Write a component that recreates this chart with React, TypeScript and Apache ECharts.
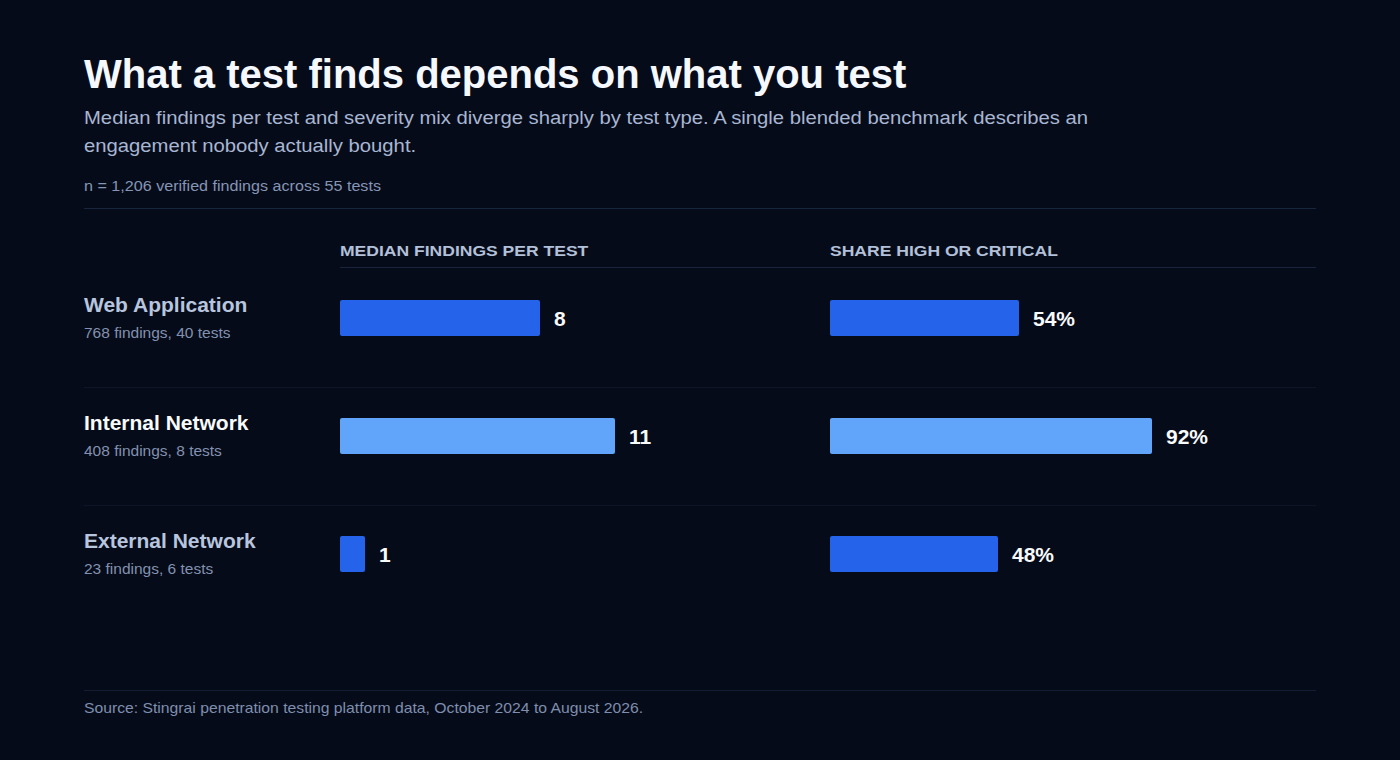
import React, { useEffect, useRef } from "react";
import * as echarts from "echarts";

const categories = ["Web Application", "Internal Network", "External Network"];
const findingsCount = [768, 408, 23];
const testsCount = [40, 8, 6];
const medianFindings = [8, 11, 1];
const shareHighCritical = [54, 92, 48];
const highlighted = "Internal Network";

const title = "What a test finds depends on what you test";
const subtitle =
  "Median findings per test and severity mix diverge sharply by test type. A single blended benchmark describes an\nengagement nobody actually bought.";
const sampleNote = "n = 1,206 verified findings across 55 tests";
const colHeaders = ["MEDIAN FINDINGS PER TEST", "SHARE HIGH OR CRITICAL"];
const source = "Source: Stingrai penetration testing platform data, October 2024 to August 2026.";

const FONT = '"Liberation Sans", Helvetica, Arial, sans-serif';
const BG = "#050b18";
const BLUE = "#2563eb";
const LIGHT = "#60a5fa";

export default function App() {
  const ref = useRef<HTMLDivElement>(null);
  useEffect(() => {
    document.body.style.margin = "0";
    document.body.style.background = BG;
    const chart = echarts.init(ref.current!, null, { renderer: "svg" });
    const barColor = (i: number) => (categories[i] === highlighted ? LIGHT : BLUE);
    const hline = (y: number, x1: number, x2: number, color: string) => ({
      type: "line",
      shape: { x1, y1: y, x2, y2: y },
      style: { stroke: color, lineWidth: 1 },
      silent: true,
    });
    const txt = (
      x: number,
      y: number,
      text: string,
      size: number,
      color: string,
      weight: any = "normal",
      scaleX = 1,
      extra: any = {}
    ) => ({
      type: "text",
      x,
      y,
      scaleX,
      style: {
        text,
        fill: color,
        font: `${weight} ${size}px ${FONT}`,
        textVerticalAlign: "middle",
        ...extra,
      },
      silent: true,
    });
    const option: any = {
      animation: false,
      backgroundColor: BG,
      textStyle: { fontFamily: FONT },
      graphic: [
        txt(84, 74, title, 40, "#f5f8ff", "bold", 1.0),
        txt(84, 131, subtitle, 19, "#a8b6d3", "normal", 1.067, { lineHeight: 28 }),
        txt(84, 186, sampleNote, 15, "#8595b5", "normal", 1.075),
        hline(208.5, 84, 1316, "#19243d"),
        txt(340, 251, colHeaders[0], 14.5, "#b3c0d9", "bold", 1.21),
        txt(830, 251, colHeaders[1], 14.5, "#b3c0d9", "bold", 1.21),
        hline(267.5, 340, 1316, "#19243d"),
        hline(387.5, 84, 1316, "#0e1526"),
        hline(505.5, 84, 1316, "#0e1526"),
        hline(690.5, 84, 1316, "#131c31"),
        txt(84, 708, source, 15, "#7f8eae", "normal", 1.048),
      ],
      grid: [
        { left: 340, top: 259, width: 400, height: 354 },
        { left: 830, top: 259, width: 350, height: 354 },
      ],
      xAxis: [
        { type: "value", gridIndex: 0, min: 0, max: 16, show: false },
        { type: "value", gridIndex: 1, min: 0, max: 100, show: false },
      ],
      yAxis: [
        {
          type: "category",
          gridIndex: 0,
          data: categories,
          inverse: true,
          axisLine: { show: false },
          axisTick: { show: false },
          splitLine: { show: false },
          axisLabel: {
            align: "left",
            margin: 256,
            formatter: (v: string, i: number) => {
              const key = v === highlighted ? "h" : "n";
              return `{${key}|${v}}\n{s|${findingsCount[i]} findings, ${testsCount[i]} tests}`;
            },
            rich: {
              n: { fontSize: 21, fontWeight: "bold", color: "#b8c5df", lineHeight: 28, fontFamily: FONT },
              h: { fontSize: 21, fontWeight: "bold", color: "#f8fafc", lineHeight: 28, fontFamily: FONT },
              s: { fontSize: 15.5, color: "#8391b0", lineHeight: 28, fontFamily: FONT },
            },
          },
        },
        {
          type: "category",
          gridIndex: 1,
          data: categories,
          inverse: true,
          show: false,
        },
      ],
      series: [
        {
          type: "bar",
          xAxisIndex: 0,
          yAxisIndex: 0,
          barWidth: 36,
          data: medianFindings.map((v, i) => ({ value: v, itemStyle: { color: barColor(i), borderRadius: 2 } })),
          label: {
            show: true,
            position: "right",
            distance: 14,
            color: "#f8fafc",
            fontSize: 21,
            fontWeight: "bold",
            fontFamily: FONT,
          },
          silent: true,
        },
        {
          type: "bar",
          xAxisIndex: 1,
          yAxisIndex: 1,
          barWidth: 36,
          data: shareHighCritical.map((v, i) => ({ value: v, itemStyle: { color: barColor(i), borderRadius: 2 } })),
          label: {
            show: true,
            position: "right",
            distance: 14,
            formatter: "{c}%",
            color: "#f8fafc",
            fontSize: 21,
            fontWeight: "bold",
            fontFamily: FONT,
          },
          silent: true,
        },
      ],
    };
    chart.setOption(option);
    return () => chart.dispose();
  }, []);
  return <div ref={ref} style={{ width: 1400, height: 760 }} />;
}
